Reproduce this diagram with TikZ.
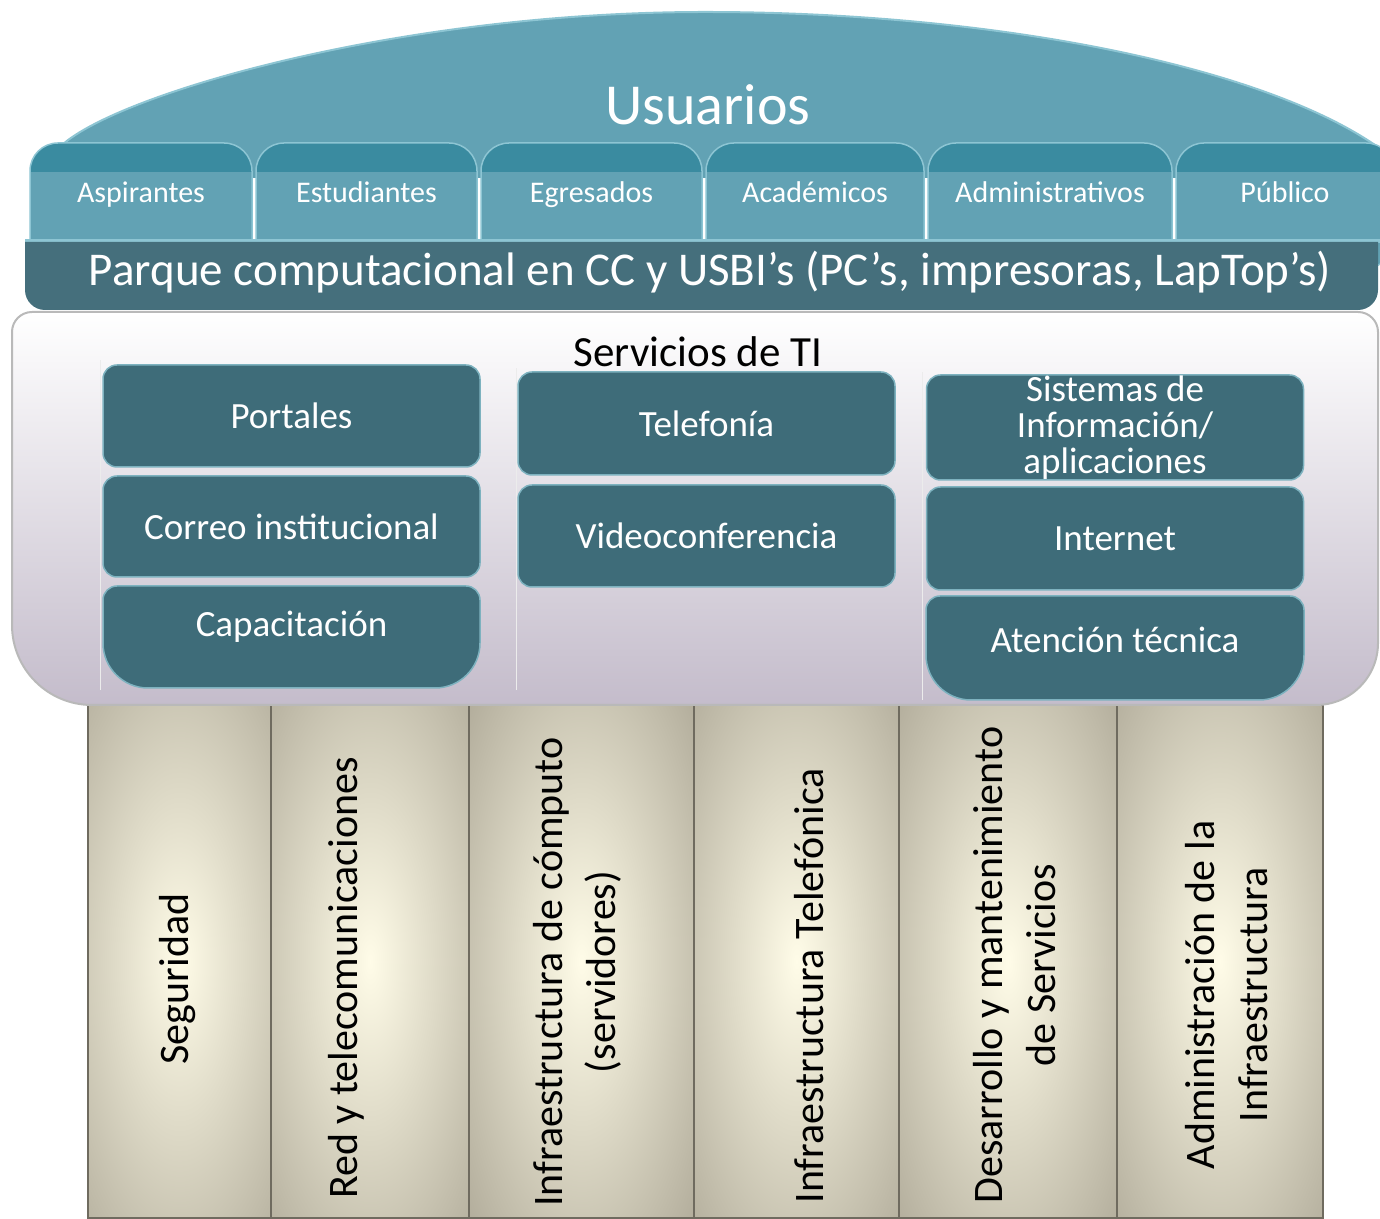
\documentclass[tikz,border=0pt]{standalone}
\usepackage{fontspec}
\setmainfont{Carlito}
\usepackage{tikz}
\usetikzlibrary{calc}
\definecolor{domec}{HTML}{62A2B4}
\definecolor{tabdark}{HTML}{3A8BA0}
\definecolor{tabline}{HTML}{8DC5D3}
\definecolor{barc}{HTML}{456F7C}
\definecolor{boxc}{HTML}{3E6C79}
\definecolor{boxedge}{HTML}{7DB2BF}
\definecolor{svcbot}{HTML}{C4BCCB}
\definecolor{pilledge}{HTML}{A09A89}
\definecolor{pillmid}{HTML}{FFFCE8}
\definecolor{pillline}{HTML}{6F6B5F}

\begin{document}
\begin{tikzpicture}[x=1pt,y=1pt,
  tab/.style={draw=tabline,line width=1.5pt,fill=tabdark,rounded corners=28pt,minimum width=#1,minimum height=125pt,inner sep=0pt,text=white,font=\fontsize{30}{32}\selectfont,text height=20pt,text depth=25pt,
    path picture={\fill[domec,sharp corners](path picture bounding box.south west)rectangle([yshift=-29pt]path picture bounding box.north east);}},
  svcbox/.style={draw=boxedge,line width=1.5pt,fill=boxc,rounded corners=14pt,minimum width=377pt,minimum height=#1,inner sep=0pt,text=white,font=\fontsize{37}{36}\selectfont,align=center},
  svcshape/.style={draw=boxedge,line width=1.5pt,fill=boxc},
  svctext/.style={text=white,font=\fontsize{37}{36}\selectfont},
  pillar/.style={draw=pillline,line width=1.2pt,minimum height=513pt,minimum width=#1,inner sep=0pt,
    path picture={\shade[inner color=pillmid,outer color=pilledge]($(path picture bounding box.center)+(-190,-480)$)rectangle($(path picture bounding box.center)+(190,480)$);}},
  pilltext/.style={rotate=90,align=center,font=\fontsize{42}{53}\selectfont}]
\useasboundingbox (0,0) rectangle (1380,1218);
\fill[domec](62,1073)..controls(120,1125)and(400,1206)..(705,1206)..controls(1000,1206)and(1270,1150)..(1382,1068)--(1382,1040)--(62,1040)--cycle;
\draw[tabline,line width=2pt](62,1073)..controls(120,1125)and(400,1206)..(705,1206)..controls(1000,1206)and(1270,1150)..(1382,1068);
\node[text=white,font=\fontsize{58}{60}\selectfont](usu)at(708,1113){Usuarios};
\node[tab=222pt](asp)at(141,1012.5){Aspirantes};
\node[tab=221pt](est)at(366.5,1012.5){Estudiantes};
\node[tab=221pt](egr)at(591.5,1012.5){Egresados};
\node[tab=218pt](aca)at(815,1012.5){Académicos};
\node[tab=244pt](adm)at(1050,1012.5){Administrativos};
\node[tab=218pt](pub)at(1285,1012.5){Público};
\fill[tabline](25,975)rectangle(1380,979);
\fill[barc](25,976)--(25,928)arc[start angle=180,end angle=270,radius=20]--(1358,908)arc[start angle=270,end angle=360,radius=20]--(1378,976)--cycle;
\node[text=white,font=\fontsize{47}{49}\selectfont](parque)at(710,946){Parque computacional en CC y USBI’s (PC’s, impresoras, LapTop’s)};
\node[pillar=183pt](pseg)at(179.5,256.5){};
\node[pillar=198pt](pred)at(370,256.5){};
\node[pillar=225pt](pcomp)at(581.5,256.5){};
\node[pillar=205pt](ptel)at(796.5,256.5){};
\node[pillar=218pt](pdes)at(1008,256.5){};
\node[pillar=206pt](padm)at(1220,256.5){};
\node[pilltext](seg)at(178,239){Seguridad};
\node[pilltext](red)at(346,240){Red y telecomunicaciones};
\node[pilltext](comp)at(577,246){Infraestructura de cómputo\\(servidores)};
\node[pilltext](tel)at(809,232){Infraestructura Telefónica};
\node[pilltext](des)at(1015,253){Desarrollo y mantenimiento\\de Servicios};
\node[pilltext](admi)at(1227,223){Administración de la\\Infraestructura};
\shadedraw[draw=gray!55,line width=2pt,top color=white,middle color=white,bottom color=svcbot](32,906)--(1358,906)arc[start angle=90,end angle=0,radius=20]--(1378,575)arc[start angle=0,end angle=-90,radius=62]--(92,513)arc[start angle=270,end angle=180,radius=80]--(12,886)arc[start angle=180,end angle=90,radius=20]--cycle;
\draw[gray!15](100,528)--(100,858);
\draw[gray!15](516,528)--(516,850);
\draw[gray!15](922,518)--(922,846);
\node[font=\fontsize{43}{45}\selectfont](svc)at(698,866){Servicios de TI};
\node[svcbox=102pt](port)at(291.5,802){Portales};
\node[svcbox=101pt](corr)at(291.5,691.5){Correo institucional};
\filldraw[svcshape](103,575)--(103,618)arc[start angle=180,end angle=90,radius=14]--(466,632)arc[start angle=90,end angle=0,radius=14]--(480,575)arc[start angle=0,end angle=-90,radius=45]--(148,530)arc[start angle=270,end angle=180,radius=45]--cycle;
\node[svctext](capac)at(291.5,591){Capacitación};
\node[svcbox=103pt](telf)at(706.5,794.5){Telefonía};
\node[svcbox=102pt](video)at(706.5,682){Videoconferencia};
\node[svcbox=105pt](sist)at(1115,790.5){Sistemas de\\Información/\\aplicaciones};
\node[svcbox=103pt](inter)at(1115,679.5){Internet};
\filldraw[svcshape](926,563)--(926,608)arc[start angle=180,end angle=90,radius=14]--(1290,622)arc[start angle=90,end angle=0,radius=14]--(1304,563)arc[start angle=0,end angle=-90,radius=45]--(971,518)arc[start angle=270,end angle=180,radius=45]--cycle;
\node[svctext](atenc)at(1115,578){Atención técnica};
\end{tikzpicture}
\end{document}
